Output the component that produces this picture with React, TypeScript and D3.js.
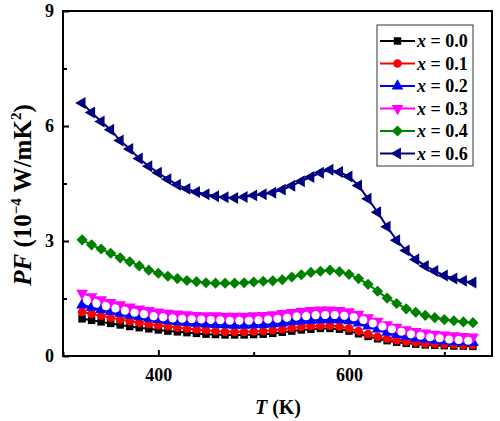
import { useEffect, useRef } from "react";
import * as d3 from "d3";

// temperature (K) for every measured series
const tempK = [
    320, 330, 340, 350, 360, 370, 380, 390, 400, 410, 420, 430, 440, 450,
    460, 470, 480, 490, 500, 510, 520, 530, 540, 550, 560, 570, 580, 590,
    600, 610, 620, 630, 640, 650, 660, 670, 680, 690, 700, 710, 720, 730,
];

// PF values, 10^-4 W/mK^2
const pf00 = [
    0.97, 0.93, 0.89, 0.85, 0.81, 0.77, 0.74, 0.71, 0.68, 0.65, 0.63, 0.61,
    0.59, 0.57, 0.56, 0.55, 0.55, 0.55, 0.56, 0.57, 0.59, 0.62, 0.65, 0.68,
    0.7, 0.72, 0.72, 0.7, 0.65, 0.58, 0.51, 0.45, 0.4, 0.36, 0.33, 0.31, 0.29,
    0.28, 0.27, 0.26, 0.26, 0.25,
];
const pf01 = [
    1.15, 1.1, 1.05, 1.0, 0.95, 0.91, 0.87, 0.83, 0.8, 0.77, 0.74, 0.71, 0.69,
    0.67, 0.65, 0.63, 0.63, 0.63, 0.64, 0.65, 0.67, 0.7, 0.73, 0.76, 0.78,
    0.79, 0.79, 0.77, 0.72, 0.65, 0.57, 0.5, 0.45, 0.41, 0.38, 0.35, 0.33,
    0.32, 0.31, 0.3, 0.29, 0.29,
];
const pf02 = [
    1.33, 1.27, 1.21, 1.16, 1.11, 1.06, 1.02, 0.98, 0.95, 0.92, 0.89, 0.87,
    0.85, 0.83, 0.82, 0.81, 0.8, 0.8, 0.81, 0.82, 0.84, 0.86, 0.89, 0.91,
    0.93, 0.94, 0.94, 0.94, 0.92, 0.86, 0.78, 0.7, 0.62, 0.56, 0.51, 0.47,
    0.44, 0.41, 0.39, 0.37, 0.36, 0.35,
];
const pf03 = [
    1.64, 1.55, 1.47, 1.4, 1.34, 1.28, 1.23, 1.19, 1.15, 1.12, 1.1, 1.08,
    1.06, 1.05, 1.05, 1.04, 1.04, 1.04, 1.05, 1.06, 1.08, 1.11, 1.14, 1.17,
    1.19, 1.2, 1.2, 1.19, 1.16, 1.09, 1.0, 0.91, 0.82, 0.75, 0.69, 0.64, 0.6,
    0.57, 0.55, 0.53, 0.51, 0.5,
];
const pf04 = [
    3.03, 2.9, 2.79, 2.68, 2.56, 2.46, 2.35, 2.24, 2.16, 2.08, 2.02, 1.97,
    1.94, 1.91, 1.9, 1.9, 1.9, 1.91, 1.93, 1.95, 1.96, 1.99, 2.06, 2.12, 2.18,
    2.21, 2.24, 2.2, 2.13, 2.02, 1.87, 1.69, 1.51, 1.37, 1.23, 1.14, 1.06,
    1.0, 0.95, 0.92, 0.89, 0.87,
];
const pf06 = [
    6.6, 6.35, 6.12, 5.9, 5.62, 5.4, 5.15, 4.95, 4.78, 4.61, 4.47, 4.36, 4.28,
    4.22, 4.17, 4.14, 4.12, 4.15, 4.19, 4.22, 4.26, 4.34, 4.44, 4.56, 4.67,
    4.78, 4.86, 4.8, 4.68, 4.45, 4.1, 3.75, 3.37, 3.02, 2.75, 2.52, 2.35,
    2.22, 2.1, 2.02, 1.96, 1.92,
];

// unlabelled white circles sitting over the x = 0.3 curve
const whiteTempK = [
    325, 335, 345, 355, 365, 375, 385, 395, 405, 415, 425, 435, 445, 455,
    465, 475, 485, 495, 505, 515, 525, 535, 545, 555, 565, 575, 585, 595,
    605, 615, 625, 635, 645, 655, 665, 675, 685, 695, 705, 715, 725,
];
const whitePf = [
    1.46, 1.37, 1.3, 1.24, 1.18, 1.13, 1.09, 1.04, 1.01, 0.98, 0.97, 0.96,
    0.95, 0.94, 0.93, 0.92, 0.92, 0.92, 0.93, 0.95, 0.97, 1.0, 1.03, 1.04,
    1.06, 1.07, 1.07, 1.05, 1.01, 0.94, 0.85, 0.77, 0.7, 0.63, 0.57, 0.53,
    0.49, 0.46, 0.43, 0.42, 0.4,
];

const xMajor = [400, 600];
const xMinor = [300, 500, 700];
const yMajor = [0, 3, 6, 9];
const yMinor = [1.5, 4.5, 7.5];

type Shape = "square" | "circle" | "up" | "down" | "diamond" | "left";

interface Series {
    label: string;
    color: string;
    shape: Shape;
    values: number[];
}

const series: Series[] = [
    { label: "0.0", color: "#000000", shape: "square", values: pf00 },
    { label: "0.1", color: "#ff0000", shape: "circle", values: pf01 },
    { label: "0.2", color: "#0000ff", shape: "up", values: pf02 },
    { label: "0.3", color: "#ff00ff", shape: "down", values: pf03 },
    { label: "0.4", color: "#008000", shape: "diamond", values: pf04 },
    { label: "0.6", color: "#000080", shape: "left", values: pf06 },
];

const FONT = "'Liberation Serif', 'Times New Roman', serif";

const symbolFor = (shape: Shape) => {
    switch (shape) {
        case "square":
            return { path: d3.symbol(d3.symbolSquare, 56)()!, rot: 0 };
        case "circle":
            return { path: d3.symbol(d3.symbolCircle, 58)()!, rot: 0 };
        case "diamond":
            return { path: d3.symbol(d3.symbolSquare, 62)()!, rot: 45 };
        case "up":
            return { path: d3.symbol(d3.symbolTriangle, 60)()!, rot: 0 };
        case "down":
            return { path: d3.symbol(d3.symbolTriangle, 60)()!, rot: 180 };
        case "left":
            return { path: d3.symbol(d3.symbolTriangle, 62)()!, rot: -90 };
    }
};

export default function App() {
    const svgRef = useRef<SVGSVGElement>(null);

    useEffect(() => {
        if (!svgRef.current) return;
        const svg = d3.select(svgRef.current);
        svg.selectAll("*").remove();

        const x = d3.scaleLinear().domain([300, 750]).range([63, 492]);
        const y = d3.scaleLinear().domain([0, 9]).range([356, 11]);

        // ticks
        const styleTicks = (g: d3.Selection<SVGGElement, unknown, null, undefined>) => {
            g.select(".domain").remove();
            g.selectAll("line").attr("stroke", "#000").attr("stroke-width", 2);
            g.selectAll("text")
                .style("font-family", FONT)
                .style("font-weight", "bold")
                .style("font-size", "18px")
                .attr("fill", "#000");
        };

        svg.append("g")
            .attr("transform", `translate(0,${y(0)})`)
            .call(d3.axisBottom(x).tickValues(xMajor).tickSize(-6).tickPadding(12).tickFormat(d3.format("d")))
            .call(styleTicks);
        svg.append("g")
            .attr("transform", `translate(0,${y(0)})`)
            .call(d3.axisBottom(x).tickValues(xMinor).tickSize(-4).tickFormat(() => ""))
            .call(styleTicks);
        svg.append("g")
            .attr("transform", `translate(${x(300)},0)`)
            .call(d3.axisLeft(y).tickValues(yMajor).tickSize(-6).tickPadding(9).tickFormat(d3.format("d")))
            .call(styleTicks);
        svg.append("g")
            .attr("transform", `translate(${x(300)},0)`)
            .call(d3.axisLeft(y).tickValues(yMinor).tickSize(-4).tickFormat(() => ""))
            .call(styleTicks);

        const line = d3
            .line<[number, number]>()
            .x((d) => x(d[0]))
            .y((d) => y(d[1]));

        const drawSeries = (s: Series) => {
            const pts = tempK.map((t, i) => [t, s.values[i]] as [number, number]);
            svg.append("path")
                .attr("d", line(pts))
                .attr("fill", "none")
                .attr("stroke", s.color)
                .attr("stroke-width", 2);
            const sym = symbolFor(s.shape);
            svg.append("g")
                .selectAll("path")
                .data(pts)
                .enter()
                .append("path")
                .attr("d", sym.path)
                .attr("fill", s.color)
                .attr("transform", (d) => `translate(${x(d[0])},${y(d[1])}) rotate(${sym.rot})`);
        };

        series.slice(0, 4).forEach(drawSeries);

        // white circles
        svg.append("g")
            .selectAll("circle")
            .data(whiteTempK.map((t, i) => [t, whitePf[i]]))
            .enter()
            .append("circle")
            .attr("cx", (d) => x(d[0]))
            .attr("cy", (d) => y(d[1]))
            .attr("r", 4)
            .attr("fill", "#ffffff");

        series.slice(4).forEach(drawSeries);

        // frame
        svg.append("rect")
            .attr("x", x(300))
            .attr("y", y(9))
            .attr("width", x(750) - x(300))
            .attr("height", y(0) - y(9))
            .attr("fill", "none")
            .attr("stroke", "#000")
            .attr("stroke-width", 2);

        // legend
        const lg = svg.append("g");
        lg.append("rect")
            .attr("x", 377)
            .attr("y", 25)
            .attr("width", 96)
            .attr("height", 141)
            .attr("fill", "#fff")
            .attr("stroke", "#333")
            .attr("stroke-width", 1);
        series.forEach((s, i) => {
            const cy = 41 + i * 22.5;
            lg.append("line")
                .attr("x1", 380)
                .attr("x2", 415)
                .attr("y1", cy)
                .attr("y2", cy)
                .attr("stroke", s.color)
                .attr("stroke-width", 2);
            const sym = symbolFor(s.shape);
            lg.append("path")
                .attr("d", sym.path)
                .attr("fill", s.color)
                .attr("transform", `translate(397.5,${cy}) rotate(${sym.rot})`);
            const t = lg.append("text")
                .attr("x", 417)
                .attr("y", cy + 6)
                .style("font-family", FONT)
                .style("font-weight", "bold")
                .style("font-size", "18px");
            t.append("tspan").style("font-style", "italic").text("x");
            t.append("tspan").text(` = ${s.label}`);
        });

        // axis titles
        const xt = svg.append("text")
            .attr("x", 278)
            .attr("y", 414)
            .attr("text-anchor", "middle")
            .style("font-family", FONT)
            .style("font-weight", "bold")
            .style("font-size", "20px");
        xt.append("tspan").style("font-style", "italic").text("T");
        xt.append("tspan").text(" (K)");

        const yt = svg.append("text")
            .attr("transform", "translate(31,195) rotate(-90)")
            .attr("text-anchor", "middle")
            .style("font-family", FONT)
            .style("font-weight", "bold")
            .style("font-size", "25px");
        yt.append("tspan").style("font-style", "italic").text("PF");
        yt.append("tspan").text(" (10");
        yt.append("tspan").attr("dy", -10).style("font-size", "15px").text("\u22124");
        yt.append("tspan").attr("dy", 10).text(" W/mK");
        yt.append("tspan").attr("dy", -10).style("font-size", "15px").text("2");
        yt.append("tspan").attr("dy", 10).text(")");
    }, []);

    return (
        <svg
            ref={svgRef}
            width={500}
            height={421}
            style={{ position: "absolute", left: 0, top: 0, background: "#fff" }}
        />
    );
}
